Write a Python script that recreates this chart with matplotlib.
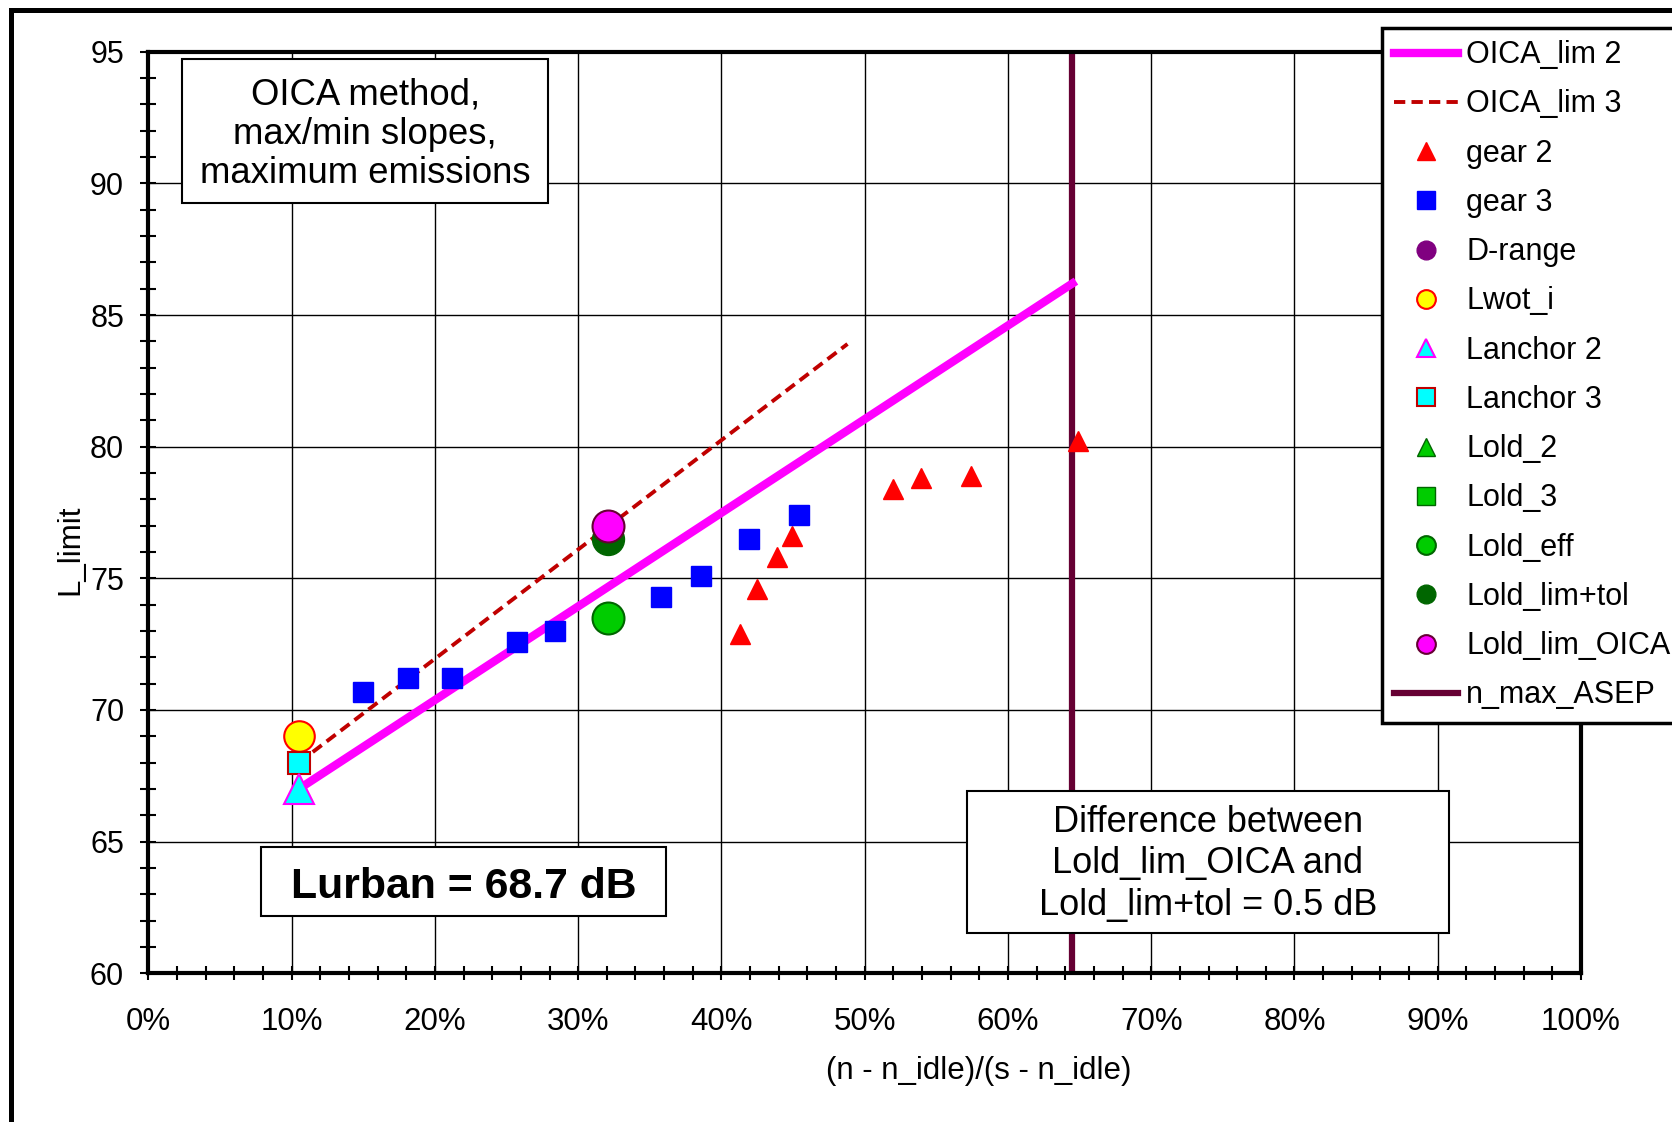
import matplotlib
matplotlib.use("Agg")
import matplotlib.pyplot as plt
from matplotlib.patches import Rectangle
from matplotlib.ticker import MultipleLocator, PercentFormatter

plt.rcParams['font.family'] = ['Liberation Sans', 'DejaVu Sans']

# OICA limit lines
lim2_x = [0.105, 0.645]
lim2_y = [67.0, 86.2]
lim3_x = [0.105, 0.488]
lim3_y = [68.0, 83.9]

# measured points
gear2_x = [0.413, 0.425, 0.439, 0.449, 0.520, 0.539, 0.574, 0.649]
gear2_y = [72.9, 74.6, 75.8, 76.6, 78.4, 78.8, 78.9, 80.2]
gear3_x = [0.150, 0.181, 0.212, 0.257, 0.284, 0.358, 0.386, 0.419, 0.454]
gear3_y = [70.7, 71.2, 71.2, 72.6, 73.0, 74.3, 75.1, 76.5, 77.4]

# single points
lwot_x, lwot_y = [0.105], [69.0]
anchor2_x, anchor2_y = [0.105], [67.0]
anchor3_x, anchor3_y = [0.105], [68.0]
lold_eff_x, lold_eff_y = [0.321], [73.5]
lold_tol_x, lold_tol_y = [0.321], [76.5]
lold_oica_x, lold_oica_y = [0.321], [77.0]

n_max_asep = 0.645

W, H = 1672, 1122


# pixel position (from top left) -> figure fraction
def fpos(x, y):
    return x / W, 1 - y / H


fig = plt.figure(figsize=(W / 100, H / 100), dpi=100)
ax_l, ax_r, ax_t, ax_b = 148.4, 1581.0, 51.7, 973.3
ax = fig.add_axes([ax_l / W, 1 - ax_b / H, (ax_r - ax_l) / W, (ax_b - ax_t) / H])

ax.plot(lim2_x, lim2_y, '-', color='#ff00ff', lw=6, label='OICA_lim 2', zorder=3)
ax.plot(lim3_x, lim3_y, color='#c00000', lw=2.8, dashes=(2.9, 1.6), label='OICA_lim 3', zorder=3)
ax.plot(gear2_x, gear2_y, '^', ls='none', color='#ff0000', ms=14.5, label='gear 2', zorder=5)
ax.plot(gear3_x, gear3_y, 's', ls='none', color='#0000ff', ms=14.5, label='gear 3', zorder=5)
ax.plot([], [], 'o', ls='none', color='#800080', label='D-range')
ax.plot(lwot_x, lwot_y, 'o', ls='none', mfc='#ffff00', mec='#ff0000', mew=1.5, ms=22, label='Lwot_i', zorder=5)
ax.plot(anchor3_x, anchor3_y, 's', ls='none', mfc='#00ffff', mec='#c00000', mew=1.5, ms=16, label='Lanchor 3', zorder=6)
ax.plot(anchor2_x, anchor2_y, '^', ls='none', mfc='#00ffff', mec='#ff00ff', mew=1.5, ms=21, label='Lanchor 2', zorder=7)
ax.plot([], [], '^', ls='none', mfc='#00cc00', mec='#006600', label='Lold_2')
ax.plot([], [], 's', ls='none', mfc='#00cc00', mec='#006600', label='Lold_3')
ax.plot(lold_eff_x, lold_eff_y, 'o', ls='none', mfc='#00cc00', mec='#006600', mew=1.5, ms=23, label='Lold_eff', zorder=5)
ax.plot(lold_tol_x, lold_tol_y, 'o', ls='none', color='#006600', ms=23, label='Lold_lim+tol', zorder=5)
ax.plot(lold_oica_x, lold_oica_y, 'o', ls='none', mfc='#ff00ff', mec='#660033', mew=1.5, ms=23, label='Lold_lim_OICA', zorder=6)
ax.axvline(n_max_asep, color='#660033', lw=4.5, label='n_max_ASEP', zorder=2)

ax.set_xlim(0, 1)
ax.set_ylim(60, 95)
ax.set_yticks(range(60, 96, 5))
ax.xaxis.set_major_locator(MultipleLocator(0.1))
ax.xaxis.set_minor_locator(MultipleLocator(0.02))
ax.yaxis.set_minor_locator(MultipleLocator(1))
ax.xaxis.set_major_formatter(PercentFormatter(1.0, decimals=0))
ax.grid(True, which='major', color='black', lw=1.0, zorder=1)
ax.set_axisbelow(True)
for s in ax.spines.values():
    s.set_linewidth(3)
ax.tick_params(axis='y', which='both', direction='inout', length=11, width=1.5, labelsize=22, pad=12)
ax.tick_params(axis='x', which='both', direction='inout', length=10, width=1.5, labelsize=22.5, pad=19)

# legend, partly cut by the figure edge as in the original
order = ['OICA_lim 2', 'OICA_lim 3', 'gear 2', 'gear 3', 'D-range', 'Lwot_i', 'Lanchor 2',
         'Lanchor 3', 'Lold_2', 'Lold_3', 'Lold_eff', 'Lold_lim+tol', 'Lold_lim_OICA', 'n_max_ASEP']
hs, ls = ax.get_legend_handles_labels()
lookup = dict(zip(ls, hs))
leg = ax.legend([lookup[k] for k in order], order, loc='upper left',
                bbox_to_anchor=fpos(1382, 28), bbox_transform=fig.transFigure,
                borderaxespad=0, fontsize=22, labelspacing=0.63, handlelength=2.1,
                handletextpad=0.25, borderpad=0.4, fancybox=False, framealpha=1,
                edgecolor='black')
leg.get_frame().set_linewidth(2.5)
leg.set_zorder(20)
for h in leg.legend_handles:
    h.set_markersize(13.5)

# text boxes
def box(x0, y0, x1, y1, text, dy=0, **kw):
    fx0, fy1 = fpos(x0, y1)
    fx1, fy0 = fpos(x1, y0)
    fig.add_artist(Rectangle((fx0, fy1), fx1 - fx0, fy0 - fy1, transform=fig.transFigure,
                             facecolor='white', edgecolor='black', lw=1.5, zorder=10))
    cx, cy = fpos((x0 + x1) / 2, (y0 + y1) / 2 + dy)
    fig.text(cx, cy, text, ha='center', va='center', zorder=11, **kw)


box(182.3, 59.3, 548, 203, 'OICA method,\nmax/min slopes,\nmaximum emissions', dy=3,
    fontsize=26.3, linespacing=1.17)
box(261, 847, 666, 916, 'Lurban = 68.7 dB', dy=5, fontsize=30.8, fontweight='bold')
box(966.7, 790.7, 1449, 933.3, 'Difference between\nLold_lim_OICA and\nLold_lim+tol = 0.5 dB',
    dy=2, fontsize=26, linespacing=1.25)

# axis titles
fig.text(*fpos(979, 1071), '(n - n_idle)/(s - n_idle)', fontsize=22.5, ha='center', va='center')
fig.text(*fpos(70, 550), 'L_limit', fontsize=22.5, rotation=90, ha='center', va='center')

# outer chart frame
fx, fy = fpos(11, 10)
fig.add_artist(Rectangle((fx, -0.1), 1.2, fy + 0.1, transform=fig.transFigure,
                         fill=False, edgecolor='black', lw=3.6, zorder=30))

fig.savefig('out.png', dpi=100)
